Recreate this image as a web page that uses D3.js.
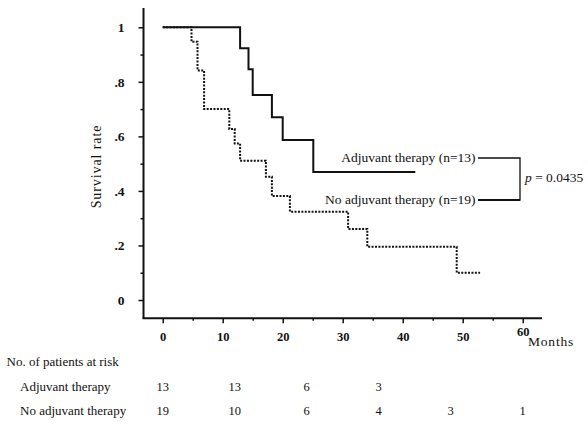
<!DOCTYPE html>
<html>
<head>
<meta charset="utf-8">
<script src="https://cdn.jsdelivr.net/npm/d3@7"></script>
<style>
  html, body { margin: 0; padding: 0; background: #fff; }
  text { font-family: "Liberation Serif", "Times New Roman", serif; fill: #111; }
</style>
</head>
<body>
<div id="chart"></div>
<script>
// Kaplan-Meier steps (months, survival rate)
var adjMonths = [0, 12.9, 14.3, 15.0, 18.2, 20.0, 25.1, 42.1];
var adjSurvival = [1, 0.923, 0.846, 0.752, 0.670, 0.587, 0.469, 0.469];
var noAdjMonths = [0, 4.8, 5.8, 6.9, 11.1, 12.0, 12.9, 17.2, 18.2, 21.2, 30.9, 34.1, 49.0, 52.9];
var noAdjSurvival = [1, 0.947, 0.842, 0.700, 0.627, 0.574, 0.511, 0.452, 0.381, 0.324, 0.260, 0.195, 0.100, 0.100];

var xTicks = [0, 10, 20, 30, 40, 50, 60];
var xMinorTicks = [5, 15, 25, 35, 45, 55];
var yTicks = [0, 0.2, 0.4, 0.6, 0.8, 1];
var yTickLabels = ['0', '.2', '.4', '.6', '.8', '1'];
var yMinorTicks = [0.1, 0.3, 0.5, 0.7, 0.9];

// patients at risk table
var riskMonths = [0, 12, 24, 36, 48, 60];
var riskGroups = ['Adjuvant therapy', 'No adjuvant therapy'];
var riskAdj = [13, 13, 6, 3];
var riskNoAdj = [19, 10, 6, 4, 3, 1];

var legendLabels = ['Adjuvant therapy (n=13)', 'No adjuvant therapy (n=19)'];
var pValueText = '0.0435';

var W = 588, H = 424;

var svg = d3.select('#chart').append('svg')
    .attr('width', W)
    .attr('height', H);

var x = d3.scaleLinear().domain([0, 60]).range([162.7, 522.7]);
var y = d3.scaleLinear().domain([0, 1]).range([300, 27.3]);

var axisX = 143.5, axisY = 318.3;

// axis frame lines
svg.append('line')
    .attr('x1', axisX).attr('y1', 8)
    .attr('x2', axisX).attr('y2', axisY)
    .attr('stroke', '#111').attr('stroke-width', 2);
svg.append('line')
    .attr('x1', axisX - 1).attr('y1', axisY)
    .attr('x2', 542).attr('y2', axisY)
    .attr('stroke', '#111').attr('stroke-width', 2);

// y axis ticks
var yAxis = svg.append('g')
    .attr('transform', 'translate(' + axisX + ',0)')
    .call(d3.axisLeft(y)
      .tickValues(yTicks)
      .tickSize(5)
      .tickPadding(14)
      .tickFormat(function(d, i) { return yTickLabels[i]; }));
yAxis.select('.domain').remove();
yAxis.selectAll('line').attr('stroke', '#111').attr('stroke-width', 1.5);
yAxis.selectAll('text')
    .attr('font-family', '"Liberation Serif", serif')
    .attr('font-size', 13.5)
    .attr('font-weight', 'bold')
    .attr('fill', '#111');

var yMinor = svg.append('g')
    .attr('transform', 'translate(' + axisX + ',0)')
    .call(d3.axisLeft(y).tickValues(yMinorTicks).tickSize(3).tickFormat(''));
yMinor.select('.domain').remove();
yMinor.selectAll('line').attr('stroke', '#111').attr('stroke-width', 1.5);

// x axis ticks
var xAxis = svg.append('g')
    .attr('transform', 'translate(0,' + axisY + ')')
    .call(d3.axisBottom(x)
      .tickValues(xTicks)
      .tickSize(5)
      .tickPadding(9)
      .tickFormat(d3.format('d')));
xAxis.select('.domain').remove();
xAxis.selectAll('line').attr('stroke', '#111').attr('stroke-width', 1.5);
xAxis.selectAll('text')
    .attr('font-family', '"Liberation Serif", serif')
    .attr('font-size', 12.5)
    .attr('font-weight', 'bold')
    .attr('fill', '#111')
    .attr('dy', function(d) { return d === 60 ? '0.33em' : '0.71em'; });

var xMinor = svg.append('g')
    .attr('transform', 'translate(0,' + axisY + ')')
    .call(d3.axisBottom(x).tickValues(xMinorTicks).tickSize(2.5).tickFormat(''));
xMinor.select('.domain').remove();
xMinor.selectAll('line').attr('stroke', '#111').attr('stroke-width', 1.5);

svg.append('text')
    .attr('x', 528).attr('y', 346)
    .attr('font-size', 13.5)
    .attr('letter-spacing', 0.8)
    .text('Months');

svg.append('text')
    .attr('transform', 'translate(101,166.5) rotate(-90)')
    .attr('text-anchor', 'middle')
    .attr('font-size', 14)
    .attr('letter-spacing', 0.9)
    .text('Survival rate');

// survival curves
var step = d3.line()
    .curve(d3.curveStepAfter)
    .x(function(d) { return x(d[0]); })
    .y(function(d) { return y(d[1]); });

svg.append('path')
    .datum(d3.zip(noAdjMonths, noAdjSurvival))
    .attr('d', step)
    .attr('fill', 'none')
    .attr('stroke', '#111')
    .attr('stroke-width', 2)
    .attr('stroke-dasharray', '2,1.4');

svg.append('path')
    .datum(d3.zip(adjMonths, adjSurvival))
    .attr('d', step)
    .attr('fill', 'none')
    .attr('stroke', '#111')
    .attr('stroke-width', 2);

// legend labels with bracket
svg.append('text')
    .attr('x', 475.5).attr('y', 162)
    .attr('text-anchor', 'end')
    .attr('font-size', 13.5)
    .text(legendLabels[0]);
svg.append('text')
    .attr('x', 475.5).attr('y', 204)
    .attr('text-anchor', 'end')
    .attr('font-size', 13.5)
    .text(legendLabels[1]);

svg.append('path')
    .attr('d', 'M478,158H520V200H478')
    .attr('fill', 'none')
    .attr('stroke', '#111')
    .attr('stroke-width', 1.3);
svg.append('line')
    .attr('x1', 478).attr('y1', 200)
    .attr('x2', 520).attr('y2', 200)
    .attr('stroke', '#111')
    .attr('stroke-width', 2);

var pText = svg.append('text')
    .attr('x', 525).attr('y', 182)
    .attr('font-size', 13.5);
pText.append('tspan').attr('font-style', 'italic').text('p');
pText.append('tspan').text(' = ' + pValueText);

// number at risk table
svg.append('text')
    .attr('x', 6.5).attr('y', 366)
    .attr('font-size', 13)
    .text('No. of patients at risk');

var rowY = [390.5, 414.5];
var rows = [riskAdj, riskNoAdj];

riskGroups.forEach(function(name, r) {
  svg.append('text')
      .attr('x', 20).attr('y', rowY[r])
      .attr('font-size', 13)
      .text(name);

  svg.append('g').selectAll('text')
      .data(rows[r])
      .enter()
      .append('text')
      .attr('x', function(d, i) { return x(riskMonths[i]); })
      .attr('y', rowY[r])
      .attr('text-anchor', 'middle')
      .attr('font-size', 12.5)
      .text(function(d) { return d; });
});
</script>
</body>
</html>
